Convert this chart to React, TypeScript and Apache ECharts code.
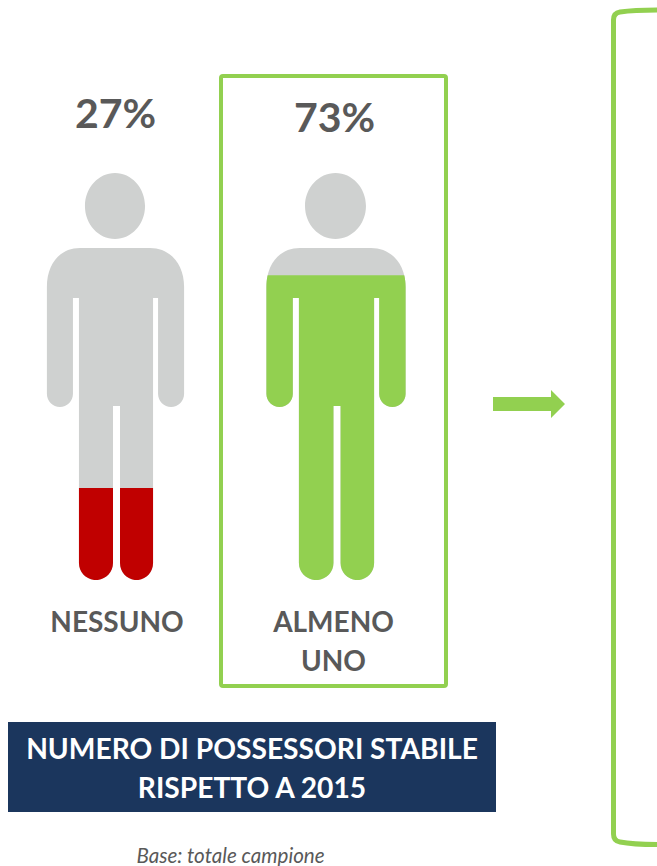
import React, { useEffect, useRef } from "react";
import * as echarts from "echarts";

const categories = ["NESSUNO", "ALMENO\nUNO"];
const shares = [27, 73];
const silhouetteFull = [100, 100];
const fillLevels = [22.6, 74.9];

const GREY = "#CFD1D0";
const RED = "#C00000";
const GREEN = "#92D050";
const TEXT = "#595959";
const NAVY = "#1B365D";
const FONT = "Lato, Carlito, sans-serif";

const person =
  "path://M115,173 C131.5,173 145,187.8 145,206 C145,224.2 131.5,239 115,239 C98.5,239 85,224.2 85,206 C85,187.8 98.5,173 115,173 Z " +
  "M80,248 L150,248 C170,248 184,264 184,287 L184,394 C184,401 178,407 171,407 C164,407 158,401 158,394 L158,298 L153,298 L153,563 C153,572.4 145.6,580 136.5,580 C127.4,580 120,572.4 120,563 L120,406 L113,406 L113,563 C113,572.4 105.4,580 96,580 C86.6,580 79,572.4 79,563 L79,298 L73,298 L73,394 C73,401 67,407 60,407 C53,407 47,401 47,394 L47,287 C47,264 60,248 80,248 Z";

const bracketPath =
  "M657,10 C640,10 627,11 620,12 Q613.5,13 613.5,20 L613.5,834 Q613.5,841 620,842 C630,844 645,844.5 657,844.5";
echarts.graphic.registerShape("bracket", echarts.graphic.extendPath(bracketPath, {}));

const widths = [137, 139];
const labelPadding = [[0, 0, 0, 3], [0, 5, 0, 0]];

export default function App() {
  const ref = useRef<HTMLDivElement>(null);
  useEffect(() => {
    const chart = echarts.init(ref.current!, null, { renderer: "svg" });
    chart.setOption({
      animation: false,
      backgroundColor: "#ffffff",
      grid: { left: 5.25, width: 441, top: 173, height: 407 },
      xAxis: {
        type: "category",
        data: categories.map((c, i) => ({ value: c, textStyle: { padding: labelPadding[i] } })),
        axisLine: { show: false },
        axisTick: { show: false },
        axisLabel: {
          margin: 21,
          fontFamily: FONT,
          fontWeight: "bold",
          fontSize: 28,
          lineHeight: 39,
          color: TEXT,
        },
      },
      yAxis: { type: "value", min: 0, max: 100, show: false },
      series: [
        {
          type: "pictorialBar",
          symbol: person,
          symbolBoundingData: 100,
          z: 2,
          itemStyle: { color: GREY },
          data: silhouetteFull.map((v, i) => ({ value: v, symbolSize: [widths[i], "100%"] })),
        },
        {
          type: "pictorialBar",
          symbol: person,
          symbolClip: true,
          symbolBoundingData: 100,
          z: 3,
          data: fillLevels.map((v, i) => ({
            value: v,
            symbolSize: [widths[i], "100%"],
            itemStyle: { color: i === 0 ? RED : GREEN },
          })),
        },
      ],
      graphic: [
        {
          type: "rect",
          shape: { x: 221, y: 76, width: 225, height: 610, r: 2 },
          style: { fill: "none", stroke: GREEN, lineWidth: 4 },
        },
        {
          type: "text",
          style: {
            x: 115.5, y: 112, text: shares[0] + "%", align: "center", verticalAlign: "middle",
            font: `bold 41px ${FONT}`, fill: TEXT,
          },
        },
        {
          type: "text",
          style: {
            x: 334.5, y: 116, text: shares[1] + "%", align: "center", verticalAlign: "middle",
            font: `bold 41px ${FONT}`, fill: TEXT,
          },
        },
        {
          type: "polygon",
          shape: { points: [[493, 397], [551, 397], [551, 390], [565, 404], [551, 418], [551, 411], [493, 411]] },
          style: { fill: GREEN },
        },
        {
          type: "bracket",
          style: { fill: "none", stroke: GREEN, lineWidth: 5 },
        },
        {
          type: "rect",
          shape: { x: 8, y: 722, width: 488, height: 90 },
          style: { fill: NAVY },
        },
        {
          type: "text",
          style: {
            x: 252, y: 748, text: "NUMERO DI POSSESSORI STABILE", align: "center", verticalAlign: "middle",
            font: `bold 28.2px ${FONT}`, fill: "#ffffff",
          },
        },
        {
          type: "text",
          style: {
            x: 252, y: 786.5, text: "RISPETTO A 2015", align: "center", verticalAlign: "middle",
            font: `bold 28.2px ${FONT}`, fill: "#ffffff",
          },
        },
        {
          type: "text",
          style: {
            x: 230.5, y: 855, text: "Base: totale campione", align: "center", verticalAlign: "middle",
            font: `italic 20.6px ${FONT}`, fill: TEXT,
          },
        },
      ],
    });
    return () => chart.dispose();
  }, []);
  return <div ref={ref} style={{ position: "absolute", left: 0, top: 0, width: 657, height: 866 }} />;
}
